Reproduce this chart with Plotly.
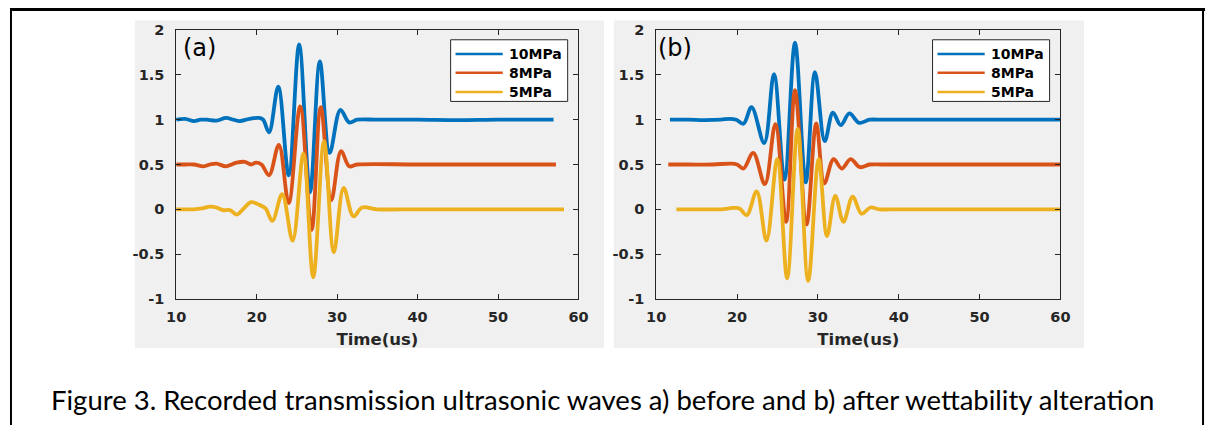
import plotly.graph_objects as go

# ---------------- data ----------------
SERIES = ["10MPa", "8MPa", "5MPa"]
COLORS = ["#0072BD", "#D95319", "#EDB120"]

# Panel (a): before wettability alteration
A_T_10 = [10, 11.1, 12.2, 13.0, 13.8, 15.0, 16.2, 17.1, 17.9, 19.1, 20.3, 20.8, 21.54, 22.68, 23.98,
          25.28, 26.63, 27.85, 29.07, 30.41, 31.5, 32.5, 35, 40, 45, 50, 56.9]
A_V_10 = [1.0, 1.01, 0.985, 1.0, 1.0, 0.99, 1.02, 1.0, 0.985, 1.01, 1.02, 1.0, 0.86, 1.37, 0.38,
          1.84, 0.19, 1.65, 0.63, 1.11, 0.97, 1.0, 1.0, 1.0, 0.995, 1.0, 1.0]

A_T_8 = [10, 11.2, 12.2, 13.4, 14.2, 15.0, 16.2, 17.5, 18.5, 19.3, 19.9, 20.6, 21.54, 22.76, 23.98,
         25.41, 26.83, 27.97, 29.27, 30.49, 31.5, 32.5, 40, 50, 57.2]
A_V_8 = [0.5, 0.5, 0.5, 0.48, 0.5, 0.51, 0.48, 0.52, 0.53, 0.5, 0.52, 0.5, 0.38, 0.72, 0.07,
         1.15, -0.23, 1.14, 0.10, 0.65, 0.48, 0.5, 0.5, 0.5, 0.5]

A_T_5 = [10, 12.2, 13.2, 14.2, 15.0, 15.8, 16.7, 17.5, 18.3, 19.3, 20.3, 21.1, 21.95, 23.17, 24.47,
         25.81, 27.03, 28.37, 29.59, 30.81, 32.03, 33.1, 35, 40, 50, 58.2]
A_V_5 = [0.0, 0.0, 0.01, 0.03, 0.02, -0.01, -0.01, -0.06, 0.0, 0.08, 0.05, 0.01, -0.13, 0.17, -0.35,
         0.62, -0.76, 0.76, -0.48, 0.24, -0.08, 0.02, 0.0, 0.0, 0.0, 0.0]

# Panel (b): after wettability alteration
B_T_10 = [11.7, 14, 16, 18, 19.1, 19.9, 20.8, 21.8, 23.36, 24.57, 25.87, 27.17, 28.5, 29.64, 30.85,
          31.86, 32.83, 33.9, 35.1, 36.4, 38, 45, 52, 60]
B_V_10 = [1.0, 1.0, 0.995, 1.0, 1.01, 1.0, 0.955, 1.14, 0.74, 1.51, 0.33, 1.86, 0.3, 1.53, 0.76,
          1.08, 0.94, 1.07, 0.965, 1.0, 1.0, 1.0, 1.0, 1.0]

B_T_8 = [11.5, 14, 17, 19.3, 20.0, 20.8, 22.0, 23.44, 24.74, 26.07, 27.17, 28.6, 29.8, 30.8, 31.94,
         32.96, 34.05, 35.2, 36.4, 38, 45, 52, 60]
B_V_8 = [0.5, 0.5, 0.5, 0.51, 0.5, 0.455, 0.63, 0.28, 0.95, -0.14, 1.33, -0.17, 0.96, 0.29, 0.56,
         0.455, 0.56, 0.47, 0.5, 0.5, 0.5, 0.5, 0.5]

B_T_5 = [12.5, 15, 18, 19.5, 20.3, 21.2, 22.43, 23.64, 24.98, 26.2, 27.5, 28.8, 30.1, 31.13, 32.15,
         33.16, 34.3, 35.4, 36.5, 37.6, 40, 50, 60]
B_V_5 = [0.0, 0.0, 0.0, 0.015, 0.01, -0.065, 0.2, -0.35, 0.56, -0.77, 0.9, -0.8, 0.56, -0.3, 0.15,
         -0.14, 0.14, -0.05, 0.02, 0.0, 0.0, 0.0, 0.0]

X_TICKS = [10, 20, 30, 40, 50, 60]
Y_TICKS = [-1, -0.5, 0, 0.5, 1, 1.5, 2]
Y_TICK_TEXT = ["-1", "-0.5", "0", "0.5", "1", "1.5", "2"]
PANEL_LABELS = ["(a)", "(b)"]
X_TITLE = "Time(us)"
CAPTION = "Figure 3. Recorded transmission ultrasonic waves a) before and b) after wettability alteration"

# ---------------- figure ----------------
W, H = 1215, 433
fig = go.Figure()

panels = [
    ([(A_T_10, A_V_10), (A_T_8, A_V_8), (A_T_5, A_V_5)], "x", "y"),
    ([(B_T_10, B_V_10), (B_T_8, B_V_8), (B_T_5, B_V_5)], "x2", "y2"),
]
for data, xa, ya in panels:
    for (t, v), name, col in zip(data, SERIES, COLORS):
        fig.add_trace(go.Scatter(
            x=t, y=v, mode="lines", name=name, xaxis=xa, yaxis=ya, showlegend=False,
            line=dict(color=col, width=3.8, shape="spline", smoothing=1.0),
        ))

def px_x(p):
    return p / W

def px_y(p):
    return 1 - p / H

dom_y = [px_y(302), px_y(23)]
doms_x = [[px_x(169), px_x(578)], [px_x(657), px_x(1068)]]

BOLD = "DejaVu Sans, Verdana, sans-serif"
tickfont = dict(family=BOLD, size=14.5, color="#262626", weight="bold")
axis_common = dict(
    showline=True, linecolor="#262626", linewidth=1, mirror="allticks",
    ticks="inside", ticklen=5, tickcolor="#262626", showgrid=False, zeroline=False,
    tickfont=tickfont,
)
layout_axes = {}
for i, (xa, ya) in enumerate([("xaxis", "yaxis"), ("xaxis2", "yaxis2")]):
    xname = "x" if i == 0 else "x2"
    yname = "y" if i == 0 else "y2"
    layout_axes[xa] = dict(axis_common, domain=doms_x[i], range=[10, 60], tickvals=X_TICKS,
                           anchor=yname, ticklabelstandoff=5,
                           title=dict(text=X_TITLE, standoff=9,
                                      font=dict(family=BOLD, size=16.5, color="#262626", weight="bold")))
    layout_axes[ya] = dict(axis_common, domain=dom_y, range=[-1, 2], tickvals=Y_TICKS,
                           ticktext=Y_TICK_TEXT, anchor=xname, ticklabelstandoff=8)

fig.update_layout(**layout_axes)
fig.update_layout(
    width=W, height=H,
    margin=dict(l=0, r=0, t=0, b=0),
    paper_bgcolor="white", plot_bgcolor="white",
)

shapes = [
    # grey figure backgrounds
    dict(type="rect", xref="paper", yref="paper", x0=px_x(127), x1=px_x(604), y0=px_y(353), y1=px_y(13),
         fillcolor="#f0f0f0", line=dict(width=0), layer="below"),
    dict(type="rect", xref="paper", yref="paper", x0=px_x(614), x1=px_x(1092), y0=px_y(353), y1=px_y(13),
         fillcolor="#f0f0f0", line=dict(width=0), layer="below"),
    # outer page frame (top, left, right)
    dict(type="line", xref="paper", yref="paper", x0=px_x(0), x1=px_x(1215), y0=px_y(1.5), y1=px_y(1.5),
         line=dict(color="black", width=3)),
    dict(type="line", xref="paper", yref="paper", x0=px_x(1), x1=px_x(1), y0=0, y1=1,
         line=dict(color="black", width=2)),
    dict(type="line", xref="paper", yref="paper", x0=px_x(1213), x1=px_x(1213), y0=0, y1=1,
         line=dict(color="black", width=2)),
]

annotations = [
    dict(text=PANEL_LABELS[0], xref="paper", yref="paper", x=px_x(174), y=px_y(25),
         xanchor="left", yanchor="top", showarrow=False,
         font=dict(family="DejaVu Sans, sans-serif", size=24, color="black")),
    dict(text=PANEL_LABELS[1], xref="paper", yref="paper", x=px_x(657), y=px_y(25),
         xanchor="left", yanchor="top", showarrow=False,
         font=dict(family="DejaVu Sans, sans-serif", size=24, color="black")),
    dict(text=CAPTION, xref="paper", yref="paper", x=px_x(40), y=px_y(407),
         xanchor="left", yanchor="middle", showarrow=False,
         font=dict(family="Lato, Open Sans, sans-serif", size=27.5, color="black")),
]

# legend boxes drawn like the MATLAB legends
row_y = [47.7, 67.3, 87.3]
for right in (567, 1057):
    left = right - 119
    shapes.append(dict(type="rect", xref="paper", yref="paper", x0=px_x(left), x1=px_x(right),
                       y0=px_y(97), y1=px_y(33), fillcolor="white",
                       line=dict(color="#262626", width=1), layer="above"))
    for name, col, ry in zip(SERIES, COLORS, row_y):
        shapes.append(dict(type="line", xref="paper", yref="paper", x0=px_x(left + 5), x1=px_x(left + 53),
                           y0=px_y(ry), y1=px_y(ry), line=dict(color=col, width=2.5), layer="above"))
        annotations.append(dict(text=name, xref="paper", yref="paper", x=px_x(left + 57), y=px_y(ry),
                                xanchor="left", yanchor="middle", showarrow=False,
                                font=dict(family=BOLD, size=14, color="#000000", weight="bold")))

fig.update_layout(shapes=shapes, annotations=annotations)

fig.write_html("out.html", config={"displayModeBar": False},
               post_script="document.body.style.margin='0';document.body.style.overflow='hidden';")
